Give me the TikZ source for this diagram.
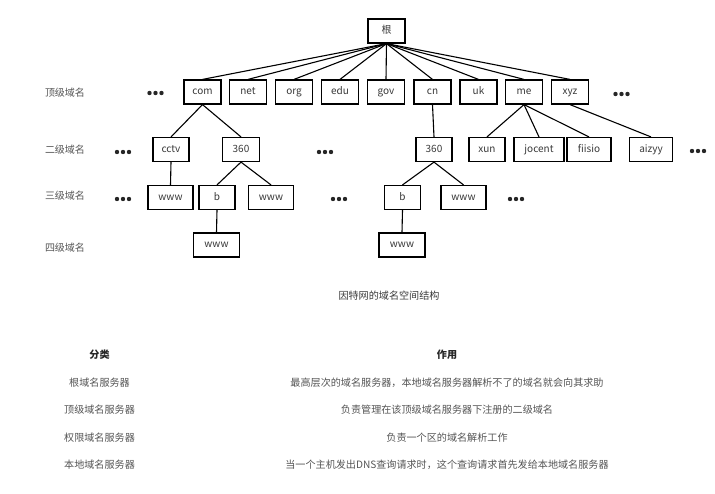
\documentclass[tikz,border=0pt]{standalone}
\usepackage{fontspec}
\setmainfont{Noto Sans CJK SC}
\definecolor{tgray}{HTML}{3A3A3A}
\definecolor{lgray}{HTML}{555555}
\begin{document}
\begin{tikzpicture}[x=1pt,y=-1pt,
  box/.style={draw=black, line width=1.2pt, minimum width=37pt, minimum height=24pt,
    inner sep=1pt, text height=7.2pt, text depth=1.8pt,
    font=\fontsize{10}{11}\selectfont, text=tgray},
  lvl/.style={font=\fontsize{10}{12}\selectfont, text=lgray},
  tab/.style={font=\fontsize{10.1}{11}\selectfont, text=lgray},
  hdr/.style={font=\fontsize{10.1}{11}\selectfont\bfseries, text=black!85},
  edge/.style={line width=1.1pt},
  tri/.pic={\fill[black!85] (-6,0) circle (2.2pt) (0,0) circle (2.2pt) (6,0) circle (2.2pt);}]
\useasboundingbox (0,0) rectangle (715,493);
\fill[white] (0,0) rectangle (715,493);

% level labels
\node[lvl] (l1) at (65,93) {顶级域名};
\node[lvl] (l2) at (65,150) {二级域名};
\node[lvl] (l3) at (65,196) {三级域名};
\node[lvl] (l4) at (65,248) {四级域名};

% root
\node[box] (root) at (386.5,31) {根};

% top level
\node[box] (com) at (202.5,92) {com};
\node[box] (net) at (248,92) {net};
\node[box] (org) at (294,92) {org};
\node[box] (edu) at (340,92) {edu};
\node[box] (gov) at (386,92) {gov};
\node[box] (cn)  at (432.5,92) {cn};
\node[box] (uk)  at (478.5,92) {uk};
\node[box] (me)  at (524,92) {me};
\node[box] (xyz) at (570,92) {xyz};

% second level
\node[box, minimum width=36pt] (cctv) at (171,149.5) {cctv};
\node[box] (s360a) at (241,149.5) {360};
\node[box, minimum width=36pt] (s360b) at (434,149.5) {360};
\node[box, minimum width=36pt] (xun) at (487,149.5) {xun};
\node[box, minimum width=50pt] (jocent) at (539,149.5) {jocent};
\node[box, minimum width=44pt] (fiisio) at (589,149.5) {fiisio};
\node[box, minimum width=43pt] (aizyy) at (651,149.5) {aizyy};

% third level
\node[box, minimum width=45pt] (wwwa) at (170.5,197.5) {www};
\node[box, minimum width=36pt] (ba) at (217,197.5) {b};
\node[box, minimum width=45pt] (wwwb) at (271,197.5) {www};
\node[box, minimum width=36pt] (bb) at (402.5,197.5) {b};
\node[box, minimum width=45pt] (wwwc) at (463.5,197.5) {www};

% fourth level
\node[box, minimum width=46pt] (wwwd) at (216.5,245) {www};
\node[box, minimum width=46pt] (wwwe) at (402,245) {www};

% dots
\pic at (155.5,93) {tri};
\pic at (621.5,94) {tri};
\pic at (123,152) {tri};
\pic at (325,152) {tri};
\pic at (698,151) {tri};
\pic at (123,199) {tri};
\pic at (339,199) {tri};
\pic at (516,199) {tri};

% edges
\foreach \t in {com,net,org,edu,gov,cn,uk,me,xyz}
  \draw[edge] (root.south) -- (\t.north);
\draw[edge] (com.south) -- (cctv.north);
\draw[edge] (com.south) -- (s360a.north);
\draw[edge] (cn.south) -- (s360b.north);
\draw[edge] (me.south) -- (xun.north);
\draw[edge] (me.south) -- (jocent.north);
\draw[edge] (me.south) -- (fiisio.north);
\draw[edge] (xyz.south) -- (aizyy.north);
\draw[edge] (cctv.south) -- (wwwa.north);
\draw[edge] (s360a.south) -- (ba.north);
\draw[edge] (s360a.south) -- (wwwb.north);
\draw[edge] (s360b.south) -- (bb.north);
\draw[edge] (s360b.south) -- (wwwc.north);
\draw[edge] (ba.south) -- (wwwd.north);
\draw[edge] (bb.south) -- (wwwe.north);

% caption
\node[tab, text=tgray] (cap) at (389,296) {因特网的域名空间结构};

% table
\node[hdr] (h1) at (99.5,355) {分类};
\node[hdr] (h2) at (447,355) {作用};
\node[tab] (c1) at (99.5,382.5) {根域名服务器};
\node[tab] (d1) at (447,382.5) {最高层次的域名服务器，本地域名服务器解析不了的域名就会向其求助};
\node[tab] (c2) at (99.5,410) {顶级域名服务器};
\node[tab] (d2) at (447,410) {负责管理在该顶级域名服务器下注册的二级域名};
\node[tab] (c3) at (99.5,437.5) {权限域名服务器};
\node[tab] (d3) at (447,437.5) {负责一个区的域名解析工作};
\node[tab] (c4) at (99.5,465) {本地域名服务器};
\node[tab] (d4) at (447,465) {当一个主机发出DNS查询请求时，这个查询请求首先发给本地域名服务器};
\end{tikzpicture}
\end{document}
